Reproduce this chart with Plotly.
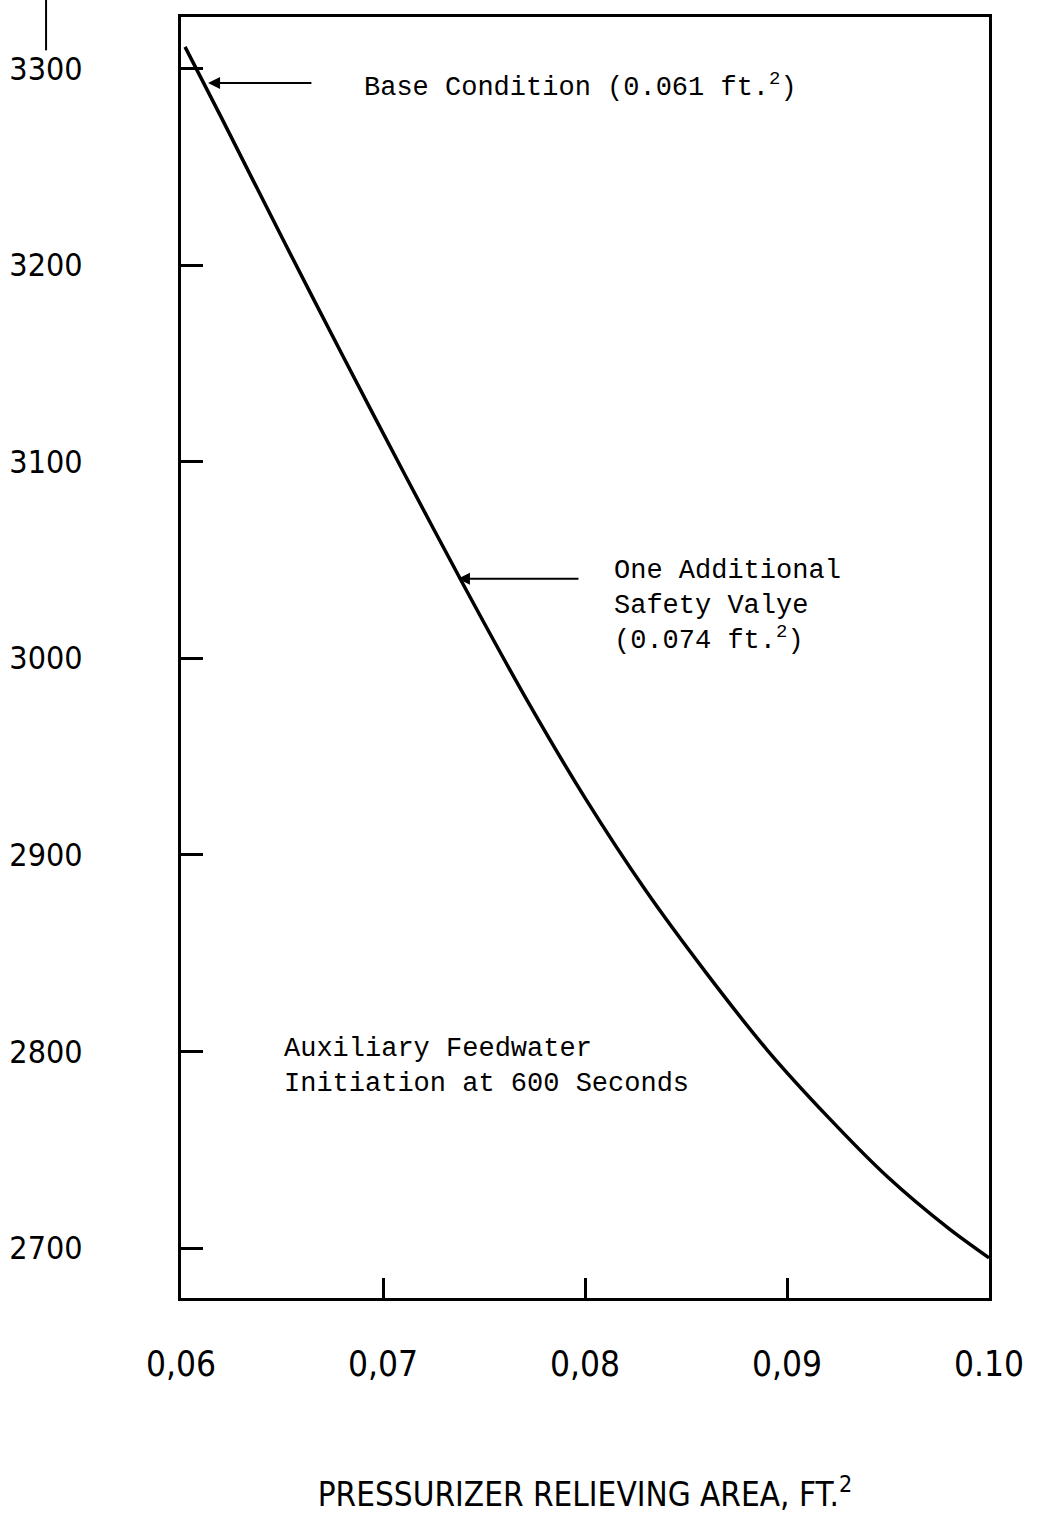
import plotly.graph_objects as go

# Curve: peak pressure vs pressurizer relieving area
area = [0.0602, 0.062, 0.065, 0.068, 0.071, 0.074, 0.077, 0.080, 0.083, 0.086, 0.089, 0.092, 0.095, 0.098, 0.100]
pressure = [3311, 3275, 3214, 3154, 3095, 3037, 2981, 2929, 2882, 2840, 2801, 2767, 2736, 2710, 2695]

x_tickvals = [0.06, 0.07, 0.08, 0.09, 0.10]
x_ticktext = ["0,06", "0,07", "0,08", "0,09", "0.10"]
y_tickvals = [2700, 2800, 2900, 3000, 3100, 3200, 3300]
y_ticktext = ["2700", "2800", "2900", "3000", "3100", "3200", "3300"]

NARROW = "DejaVu Sans Condensed, Liberation Sans Narrow, sans-serif"
MONO = "Liberation Mono, Courier New, DejaVu Sans Mono, monospace"

fig = go.Figure()
fig.add_trace(go.Scatter(x=area, y=pressure, mode="lines",
                         line=dict(color="black", width=3.5, shape="spline", smoothing=0.8),
                         showlegend=False, hoverinfo="skip"))

# Arrows
fig.add_annotation(x=0.06134, y=3292.6, ax=0.06653, ay=3292.6, xref="x", yref="y",
                   axref="x", ayref="y", text="", showarrow=True, arrowhead=2,
                   arrowsize=1.2, arrowwidth=2, arrowcolor="black")
fig.add_annotation(x=0.07371, y=3040.5, ax=0.07975, ay=3040.5, xref="x", yref="y",
                   axref="x", ayref="y", text="", showarrow=True, arrowhead=2,
                   arrowsize=1.2, arrowwidth=2, arrowcolor="black")

# Text labels
fig.add_annotation(x=0.06896, y=3291.6, xref="x", yref="y", xanchor="left", yanchor="middle",
                   text="Base Condition (0.061 ft.<sup>2</sup>)", showarrow=False, align="left",
                   font=dict(family=MONO, size=27, color="black"))
fig.add_annotation(x=0.08134, y=3026.6, xref="x", yref="y", xanchor="left", yanchor="middle",
                   text="One Additional<br>Safety Valye<br>(0.074 ft.<sup>2</sup>)", showarrow=False,
                   align="left", font=dict(family=MONO, size=27, color="black"))
fig.add_annotation(x=0.065, y=2792.6, xref="x", yref="y", xanchor="left", yanchor="middle",
                   text="Auxiliary Feedwater<br>Initiation at 600 Seconds", showarrow=False,
                   align="left", font=dict(family=MONO, size=27, color="black"))

# small stray vertical stroke at top-left of the page
fig.add_shape(type="line", xref="paper", yref="paper", x0=-0.167, x1=-0.167, y0=0.974, y1=1.02,
              line=dict(color="black", width=2))

fig.update_layout(
    width=1040, height=1524,
    margin=dict(l=181, r=51, t=17, b=226),
    paper_bgcolor="white", plot_bgcolor="white",
    showlegend=False,
    xaxis=dict(range=[0.06, 0.10], tickvals=x_tickvals, ticktext=x_ticktext,
               ticks="inside", ticklen=20, tickwidth=3, tickcolor="black",
               showline=True, mirror=True, linecolor="black", linewidth=3,
               showgrid=False, zeroline=False, ticklabelstandoff=33, automargin=False,
               tickfont=dict(family=NARROW, size=35, color="black"),
               title=dict(text="PRESSURIZER RELIEVING AREA, FT.<sup>2</sup>", standoff=100,
                          font=dict(family=NARROW, size=33, color="black"))),
    yaxis=dict(range=[2674.6, 3326.2], tickvals=y_tickvals, ticktext=y_ticktext,
               ticks="inside", ticklen=22, tickwidth=3, tickcolor="black",
               showline=True, mirror=True, linecolor="black", linewidth=3,
               showgrid=False, zeroline=False, ticklabelstandoff=89, automargin=False,
               tickfont=dict(family=NARROW, size=32, color="black")),
)

fig.write_html("out.html")
